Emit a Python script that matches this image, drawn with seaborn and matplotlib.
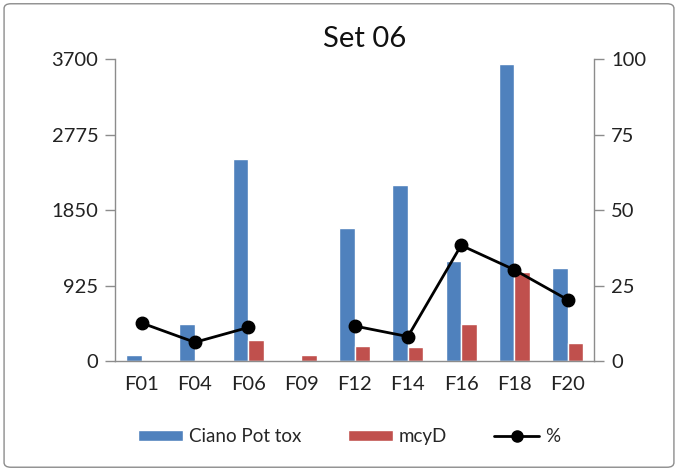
import numpy as np
import pandas as pd
import matplotlib
matplotlib.use("Agg")
import matplotlib.pyplot as plt
import seaborn as sns
from matplotlib.lines import Line2D
from matplotlib.patches import Patch, FancyBboxPatch

samples = ["F01", "F04", "F06", "F09", "F12", "F14", "F16", "F18", "F20"]
ciano_pot_tox = [70, 453, 2478, 0, 1624, 2160, 1229, 3638, 1143]
mcyd = [0, 15, 261, 69, 184, 167, 457, 1094, 224]
percent = [12.6, 6.2, 11.1, np.nan, 11.6, 8.1, 38.3, 30.2, 20.3]

left_ticks = [0, 925, 1850, 2775, 3700]
right_ticks = [0, 25, 50, 75, 100]

blue = "#4F81BD"
red = "#C0504D"

sns.set_style("white")
plt.rcParams["font.family"] = ["Lato", "DejaVu Sans"]

df = pd.DataFrame({
    "sample": samples * 2,
    "value": ciano_pot_tox + mcyd,
    "series": ["Ciano Pot tox"] * len(samples) + ["mcyD"] * len(samples),
})

fig = plt.figure(figsize=(6.78, 4.71), dpi=100)
ax = fig.add_axes([0.1696, 0.2335, 0.7069, 0.6412])

sns.barplot(data=df, x="sample", y="value", hue="series", palette=[blue, red],
            width=0.58, gap=0, saturation=1, ax=ax, legend=False)

ax2 = ax.twinx()
ax2.plot(np.arange(len(samples)), percent, color="black", lw=2,
         marker="o", markersize=9)

ax.set_xlim(-0.5, len(samples) - 0.5)
ax.set_ylim(0, 3700)
ax2.set_ylim(0, 100)
ax.set_yticks(left_ticks)
ax.set_yticklabels([str(t) for t in left_ticks])
ax2.set_yticks(right_ticks)
ax.set_xlabel("")
ax.set_ylabel("")

# ticks between categories like Excel
ax.set_xticks(np.arange(len(samples)))
ax.set_xticklabels(samples)
ax.set_xticks(np.arange(len(samples) + 1) - 0.5, minor=True)
ax.tick_params(axis="x", which="major", length=0, pad=11, labelsize=14.5, colors="#222222")
ax.tick_params(axis="x", which="minor", length=6, width=1, color="#8c8c8c", direction="out")
ax.tick_params(axis="y", length=7, width=1, color="#8c8c8c", direction="out", labelsize=14.5,
               labelcolor="#222222", pad=5)
ax2.tick_params(axis="y", length=7, width=1, color="#8c8c8c", direction="out", labelsize=14.5,
                labelcolor="#222222", pad=5)

for a in (ax, ax2):
    a.spines["top"].set_visible(False)
    for s in ("left", "right", "bottom"):
        a.spines[s].set_color("#8c8c8c")
        a.spines[s].set_linewidth(1)
ax.spines["right"].set_visible(False)
ax2.spines["left"].set_visible(False)
ax2.spines["bottom"].set_visible(False)

fig.text(0.538, 0.918, "Set 06", ha="center", va="center", fontsize=21, color="#111111")

handles = [
    Patch(facecolor=blue, label="Ciano Pot tox"),
    Patch(facecolor=red, label="mcyD"),
    Line2D([0], [0], color="black", lw=2, marker="o", markersize=8, label="%"),
]
fig.legend(handles=handles, loc="center", bbox_to_anchor=(0.515, 0.073), ncol=3,
           frameon=False, fontsize=13.5, handlelength=2.4, handleheight=0.6,
           columnspacing=2.5, handletextpad=0.3)

border = FancyBboxPatch((0.006, 0.008), 0.988, 0.984, boxstyle="round,pad=0,rounding_size=0.01",
                        transform=fig.transFigure, fill=False, edgecolor="#8c8c8c", lw=1)
fig.patches.append(border)

fig.savefig("out.png", dpi=100)
